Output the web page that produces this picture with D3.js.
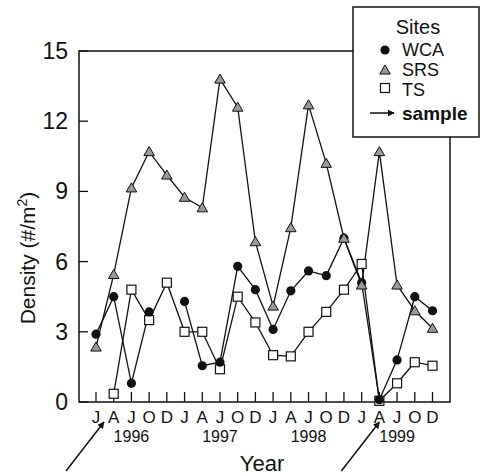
<!DOCTYPE html>
<html>
<head>
<meta charset="utf-8">
<script src="https://cdn.jsdelivr.net/npm/d3@7"></script>
<style>
  body { margin: 0; background: #fff; }
  text { font-family: 'Liberation Sans', Arial, sans-serif; fill: #111; }
</style>
</head>
<body>
<div id="chart"></div>
<script>
const width = 480;
const height = 476;

// sampling dates, 5 per year
const months = ['J', 'A', 'J', 'O', 'D', 'J', 'A', 'J', 'O', 'D',
  'J', 'A', 'J', 'O', 'D', 'J', 'A', 'J', 'O', 'D'];
const years = ['1996', '1997', '1998', '1999'];
const yTicks = [0, 3, 6, 9, 12, 15];

// density (#/m2) per site, null = not sampled
const wca = [2.9, 4.5, 0.8, 3.85, null, 4.3, 1.55, 1.7, 5.8, 4.8,
  3.1, 4.75, 5.6, 5.4, 7.0, 5.1, 0.1, 1.8, 4.5, 3.9];
const srs = [2.35, 5.45, 9.15, 10.7, 9.7, 8.75, 8.3, 13.8, 12.6, 6.85,
  4.1, 7.45, 12.7, 10.2, 7.0, 5.0, 10.7, 5.0, 3.9, 3.15];
const ts = [null, 0.35, 4.8, 3.5, 5.1, 3.0, 3.0, 1.4, 4.5, 3.4,
  2.0, 1.95, 3.0, 3.85, 4.8, 5.9, 0.05, 0.8, 1.7, 1.55];

// where the "sample" arrows point (index on the month axis)
const sampleAt = [0.45, 16];

const frame = { left: 79, right: 450, top: 51, bottom: 402 };

const svg = d3
  .select('#chart')
  .append('svg')
  .attr('width', width)
  .attr('height', height);

const x = d3.scaleLinear().domain([0, 19]).range([96, 432.5]);
const y = d3.scaleLinear().domain([0, 15]).range([frame.bottom, frame.top]);

svg.append('defs')
  .append('marker')
  .attr('id', 'head')
  .attr('viewBox', '0 0 10 10')
  .attr('refX', 9)
  .attr('refY', 5)
  .attr('markerWidth', 7)
  .attr('markerHeight', 7)
  .attr('markerUnits', 'userSpaceOnUse')
  .attr('orient', 'auto')
  .append('path')
  .attr('d', 'M0,0L10,5L0,10Z')
  .attr('fill', '#111');

// plot frame
svg.append('rect')
  .attr('x', frame.left)
  .attr('y', frame.top)
  .attr('width', frame.right - frame.left)
  .attr('height', frame.bottom - frame.top)
  .attr('fill', 'none')
  .attr('stroke', '#111')
  .attr('stroke-width', 1.5);

// y ticks (inward) and labels
svg.selectAll('.ytick')
  .data(yTicks)
  .enter()
  .append('line')
  .attr('x1', frame.left)
  .attr('x2', frame.left + 9)
  .attr('y1', (d) => y(d))
  .attr('y2', (d) => y(d))
  .attr('stroke', '#111')
  .attr('stroke-width', 1.3);

svg.selectAll('.ylab')
  .data(yTicks)
  .enter()
  .append('text')
  .attr('x', 68)
  .attr('y', (d) => y(d) + 8)
  .attr('text-anchor', 'end')
  .style('font-size', '23px')
  .text((d) => d);

// x ticks (inward) and month labels
svg.selectAll('.xtick')
  .data(months)
  .enter()
  .append('line')
  .attr('x1', (d, i) => x(i))
  .attr('x2', (d, i) => x(i))
  .attr('y1', frame.bottom)
  .attr('y2', frame.bottom - 10)
  .attr('stroke', '#111')
  .attr('stroke-width', 1.3);

svg.selectAll('.xlab')
  .data(months)
  .enter()
  .append('text')
  .attr('x', (d, i) => x(i))
  .attr('y', 423)
  .attr('text-anchor', 'middle')
  .style('font-size', '17px')
  .text((d) => d);

svg.selectAll('.year')
  .data(years)
  .enter()
  .append('text')
  .attr('x', (d, i) => x(2 + i * 5))
  .attr('y', 442)
  .attr('text-anchor', 'middle')
  .style('font-size', '16px')
  .text((d) => d);

svg.append('text')
  .attr('x', 262)
  .attr('y', 471)
  .attr('text-anchor', 'middle')
  .style('font-size', '22px')
  .text('Year');

const yLab = svg.append('text')
  .attr('transform', 'translate(35,258) rotate(-90)')
  .attr('text-anchor', 'middle')
  .style('font-size', '21px');
yLab.append('tspan').text('Density (#/m');
yLab.append('tspan').attr('dy', -8).style('font-size', '14px').text('2');
yLab.append('tspan').attr('dy', 8).text(')');

// sample arrows
svg.selectAll('.sample')
  .data(sampleAt)
  .enter()
  .append('line')
  .attr('x1', (d) => x(d) - 38)
  .attr('y1', 471)
  .attr('x2', (d) => x(d))
  .attr('y2', 422)
  .attr('stroke', '#111')
  .attr('stroke-width', 1.5)
  .attr('marker-end', 'url(#head)');

// series lines
const line = d3
  .line()
  .defined((d) => d != null)
  .x((d, i) => x(i))
  .y((d) => y(d));

[srs, ts, wca].forEach((s) => {
  svg.append('path')
    .datum(s)
    .attr('d', line)
    .attr('fill', 'none')
    .attr('stroke', '#111')
    .attr('stroke-width', 1.3);
});

const pts = (s) => s.map((v, i) => ({ i, v })).filter((d) => d.v != null);

svg.selectAll('.ts')
  .data(pts(ts))
  .enter()
  .append('rect')
  .attr('x', (d) => x(d.i) - 4.5)
  .attr('y', (d) => y(d.v) - 4.5)
  .attr('width', 9)
  .attr('height', 9)
  .attr('fill', '#fff')
  .attr('stroke', '#111')
  .attr('stroke-width', 1.2);

svg.selectAll('.wca')
  .data(pts(wca))
  .enter()
  .append('circle')
  .attr('cx', (d) => x(d.i))
  .attr('cy', (d) => y(d.v))
  .attr('r', 4.6)
  .attr('fill', '#111');

const tri = d3.symbol().type(d3.symbolTriangle).size(48);

svg.selectAll('.srs')
  .data(pts(srs))
  .enter()
  .append('path')
  .attr('transform', (d) => 'translate(' + x(d.i) + ',' + (y(d.v) + 1) + ')')
  .attr('d', tri)
  .attr('fill', '#999')
  .attr('stroke', '#111')
  .attr('stroke-width', 1);

// legend
const lg = svg.append('g');
lg.append('rect')
  .attr('x', 353)
  .attr('y', 7)
  .attr('width', 126)
  .attr('height', 130)
  .attr('fill', '#fff')
  .attr('stroke', '#111')
  .attr('stroke-width', 1.5);

lg.append('text')
  .attr('x', 418)
  .attr('y', 34)
  .attr('text-anchor', 'middle')
  .style('font-size', '20px')
  .text('Sites');

lg.append('circle').attr('cx', 385).attr('cy', 50).attr('r', 4.6).attr('fill', '#111');
lg.append('path')
  .attr('transform', 'translate(385,71)')
  .attr('d', tri)
  .attr('fill', '#999')
  .attr('stroke', '#111')
  .attr('stroke-width', 1);
lg.append('rect')
  .attr('x', 380.5).attr('y', 83.5).attr('width', 9).attr('height', 9)
  .attr('fill', '#fff').attr('stroke', '#111').attr('stroke-width', 1.2);
lg.append('line')
  .attr('x1', 370).attr('y1', 113).attr('x2', 394).attr('y2', 113)
  .attr('stroke', '#111').attr('stroke-width', 1.5)
  .attr('marker-end', 'url(#head)');

const items = [['WCA', 56, 'normal'], ['SRS', 75.5, 'normal'], ['TS', 96, 'normal'], ['sample', 120, 'bold']];
lg.selectAll('.item')
  .data(items)
  .enter()
  .append('text')
  .attr('x', 402)
  .attr('y', (d) => d[1])
  .style('font-size', (d) => (d[2] === 'bold' ? '19px' : '18px'))
  .style('font-weight', (d) => d[2])
  .text((d) => d[0]);
</script>
</body>
</html>
